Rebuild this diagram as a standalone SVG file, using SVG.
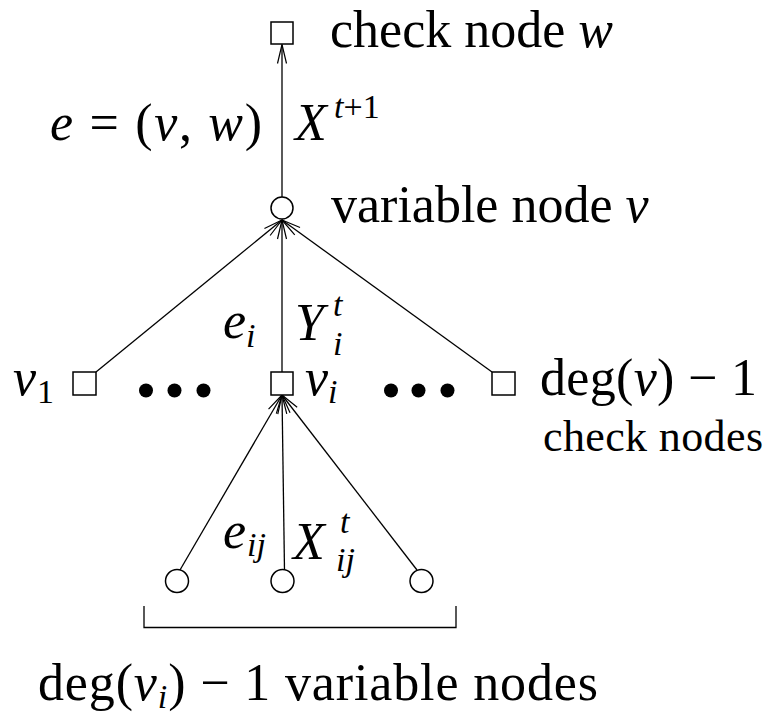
<svg xmlns="http://www.w3.org/2000/svg" width="771" height="718" viewBox="0 0 771 718">
<style>
text{font-family:"Liberation Serif","Times New Roman",serif;fill:#000}
.t{font-size:52px}
.s{font-size:34px}
.it{font-style:italic}
.cn{font-size:44px}
.node{fill:#fff;stroke:#000;stroke-width:1.5}
.dot{fill:#000}
.edge{stroke:#000;stroke-width:1.3;fill:none}
</style>
<defs>
<marker id="arr" markerUnits="userSpaceOnUse" markerWidth="24" markerHeight="14" viewBox="-20 -7 22 14" refX="0" refY="0" orient="auto">
<path d="M-19,-4.5 L0,0 L-19,4.5" fill="none" stroke="#000" stroke-width="1.2"/>
</marker>
</defs>
<rect width="771" height="718" fill="#fff"/>
<g id="connectors">
<line class="edge" x1="282" y1="197" x2="282" y2="44.5" marker-end="url(#arr)"/>
<line class="edge" x1="96" y1="372" x2="282" y2="220" marker-end="url(#arr)"/>
<line class="edge" x1="282" y1="372" x2="282" y2="220" marker-end="url(#arr)"/>
<line class="edge" x1="492" y1="372" x2="282" y2="220" marker-end="url(#arr)"/>
<line class="edge" x1="180" y1="570" x2="282" y2="395" marker-end="url(#arr)"/>
<line class="edge" x1="284.5" y1="570" x2="282" y2="395" marker-end="url(#arr)"/>
<line class="edge" x1="417" y1="570" x2="282" y2="395" marker-end="url(#arr)"/>
</g>
<g id="check-w">
<rect class="node" x="271" y="22" width="22" height="22"/>
<text class="t" x="330" y="47">check node <tspan class="it">w</tspan></text>
</g>
<g id="edge-labels-top">
<text class="t" x="50" y="140" textLength="212" lengthAdjust="spacing"><tspan class="it">e</tspan> = (<tspan class="it">v</tspan>, <tspan class="it">w</tspan>)</text>
<text class="t it" x="295" y="140">X</text>
<text class="s" x="334" y="118"><tspan class="it">t</tspan>+1</text>
</g>
<g id="var-v">
<circle class="node" cx="282" cy="208" r="11"/>
<text class="t" x="331" y="222">variable node <tspan class="it">v</tspan></text>
</g>
<g id="edge-labels-mid">
<text class="t it" x="223" y="338">e</text>
<text class="s it" x="246" y="347">i</text>
<text class="t it" x="295" y="340">Y</text>
<text class="s it" x="333" y="316">t</text>
<text class="s it" x="333" y="355">i</text>
</g>
<g id="check-v1">
<rect class="node" x="73" y="372" width="23" height="23"/>
<text class="t it" x="13" y="395">v</text>
<text class="s" x="37" y="403">1</text>
</g>
<g id="dots-left">
<circle class="dot" cx="146" cy="390.5" r="7"/>
<circle class="dot" cx="174.5" cy="390.5" r="7"/>
<circle class="dot" cx="203.5" cy="390.5" r="7"/>
</g>
<g id="check-vi">
<rect class="node" x="271" y="372" width="22" height="23"/>
<text class="t it" x="305" y="395">v</text>
<text class="s it" x="328" y="403">i</text>
</g>
<g id="dots-right">
<circle class="dot" cx="391" cy="390.5" r="7"/>
<circle class="dot" cx="418.5" cy="390.5" r="7"/>
<circle class="dot" cx="447.5" cy="390.5" r="7"/>
</g>
<g id="check-last">
<rect class="node" x="492" y="372" width="23" height="23"/>
<text class="t" x="540" y="395" textLength="217" lengthAdjust="spacing">deg(<tspan class="it">v</tspan>) − 1</text>
<text class="cn" x="543" y="451" textLength="220" lengthAdjust="spacing">check nodes</text>
</g>
<g id="edge-labels-bottom">
<text class="t it" x="223" y="548">e</text>
<text class="s it" x="247" y="556">ij</text>
<text class="t it" x="293" y="559">X</text>
<text class="s it" x="340" y="533">t</text>
<text class="s it" x="336" y="571">ij</text>
</g>
<g id="var-left">
<circle class="node" cx="177" cy="581" r="11.5"/>
</g>
<g id="var-mid">
<circle class="node" cx="282.5" cy="581" r="11.5"/>
</g>
<g id="var-right">
<circle class="node" cx="421.5" cy="581" r="11.5"/>
</g>
<g id="bracket">
<path class="edge" d="M144,606 V627.5 H456 V606"/>
<text class="t" x="38" y="700" textLength="560" lengthAdjust="spacing">deg(<tspan class="it">v</tspan><tspan class="s it" dy="8">i</tspan><tspan dy="-8">) − 1 variable nodes</tspan></text>
</g>
</svg>
